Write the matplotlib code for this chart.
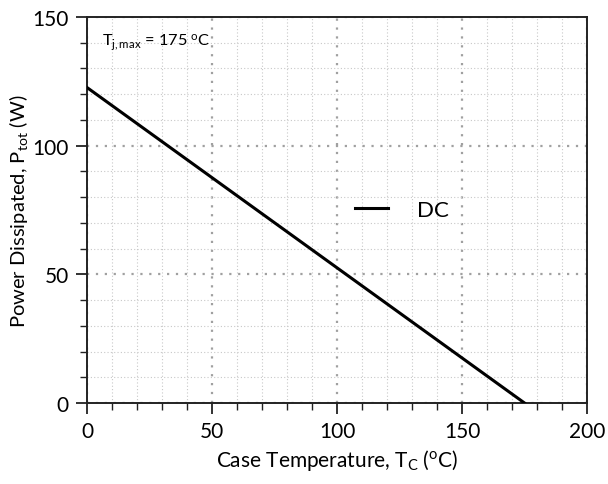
import matplotlib
matplotlib.use("Agg")
from matplotlib import pyplot as plt
from matplotlib.ticker import MultipleLocator

plt.rcParams['font.family'] = ['Lato', 'DejaVu Sans']
plt.rcParams['mathtext.fontset'] = 'custom'
plt.rcParams['mathtext.rm'] = 'Lato'
plt.rcParams['mathtext.it'] = 'Lato:italic'

# data
case_temp = [0, 175]
power = [122.6, 0]
series_label = "DC"

fig = plt.figure(figsize=(6.08, 4.85), dpi=100)
ax = fig.add_axes([0.143, 0.167, 0.8225, 0.796])

ax.plot(case_temp, power, color="black", lw=2.2, label=series_label, zorder=3)

ax.set_xlim(0, 200)
ax.set_ylim(0, 150)
ax.xaxis.set_major_locator(MultipleLocator(50))
ax.xaxis.set_minor_locator(MultipleLocator(10))
ax.yaxis.set_major_locator(MultipleLocator(50))
ax.yaxis.set_minor_locator(MultipleLocator(10))

ax.grid(which="major", linestyle=(0, (1, 3)), color="#a0a0a0", lw=1.6)
ax.grid(which="minor", linestyle=(0, (1, 2)), color="#c8c8c8", lw=0.8)
ax.set_axisbelow(True)

ax.tick_params(which="major", direction="out", length=8, width=1.3,
               labelsize=15, pad=5, color="#222222")
ax.tick_params(which="minor", direction="out", length=5, width=1.0,
               color="#222222")
for s in ax.spines.values():
    s.set_linewidth(1.4)
    s.set_color("#222222")

ax.set_xlabel(r"Case Temperature, T$_{\mathrm{C}}$ ($^{\mathrm{o}}$C)", fontsize=15, labelpad=4)
ax.set_ylabel(r"Power Dissipated, P$_{\mathrm{tot}}$ (W)", fontsize=14.5, labelpad=2)

ax.text(0.03, 0.935, r"T$_{\mathrm{j,max}}$ = 175 $^{\mathrm{o}}$C", transform=ax.transAxes,
        fontsize=11.8, va="center", ha="left")

ax.legend(loc="center", bbox_to_anchor=(0.63, 0.5), frameon=False, fontsize=16,
          handlelength=1.5, handletextpad=1.3)

fig.savefig("out.png", dpi=100)
